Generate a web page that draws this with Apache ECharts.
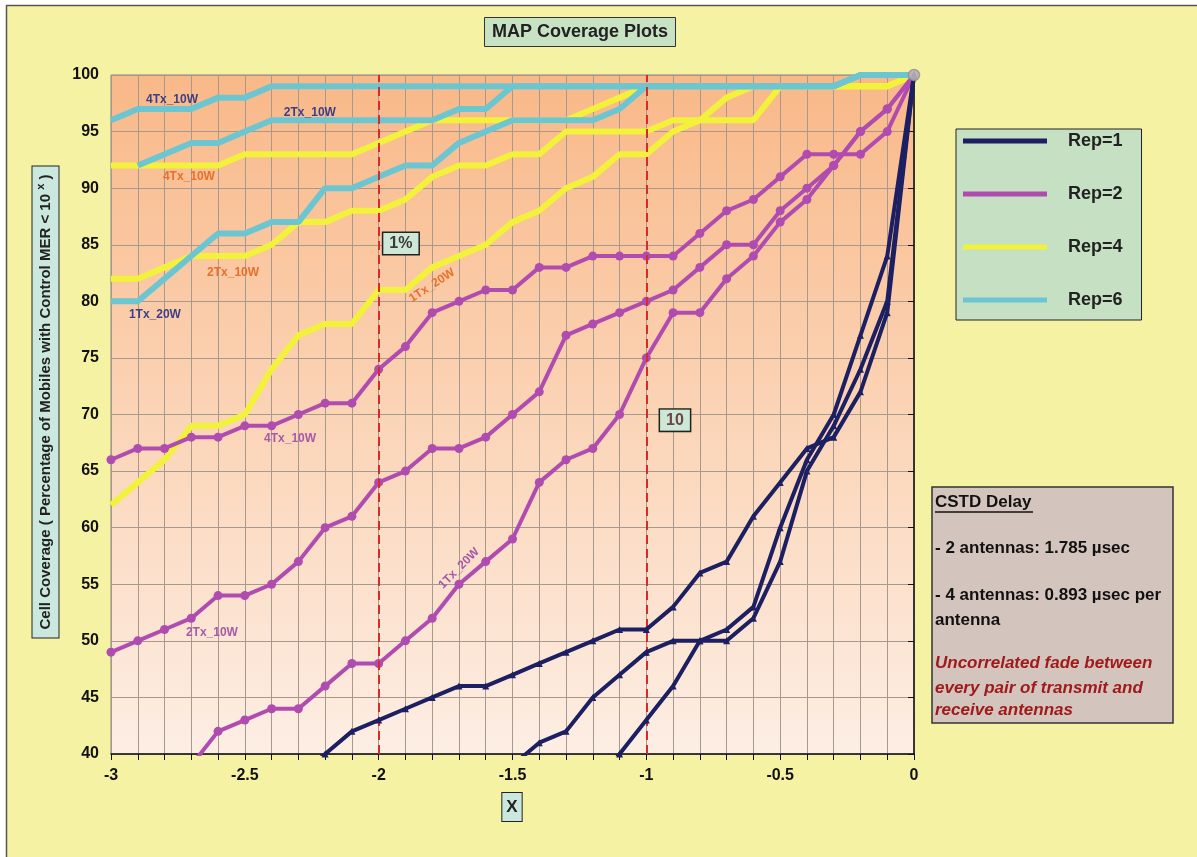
<!DOCTYPE html>
<html><head><meta charset="utf-8">
<script src="https://cdn.jsdelivr.net/npm/echarts/dist/echarts.min.js"></script>
<style>html,body{margin:0;padding:0;background:#ffffff}#c{width:1197px;height:857px}</style>
</head><body><div id="c"></div>
<script>
// ---------- data ----------
const xValues = [-3.0,-2.9,-2.8,-2.7,-2.6,-2.5,-2.4,-2.3,-2.2,-2.1,-2.0,-1.9,-1.8,-1.7,-1.6,-1.5,-1.4,-1.3,-1.2,-1.1,-1.0,-0.9,-0.8,-0.7,-0.6,-0.5,-0.4,-0.3,-0.2,-0.1,0];
const xTickLabels = [-3,-2.5,-2,-1.5,-1,-0.5,0];
const yTickLabels = [40,45,50,55,60,65,70,75,80,85,90,95,100];
// Rep=1 (navy)
const rep1_4Tx = [null,null,null,null,null,null,null,38,40,42,43,44,45,46,46,47,48,49,50,51,51,53,56,57,61,64,67,68,72,79,100];
const rep1_2Tx = [null,null,null,null,null,null,null,null,null,null,null,null,null,null,null,39,41,42,45,47,49,50,50,51,53,60,66,70,77,84,100];
const rep1_1Tx = [null,null,null,null,null,null,null,null,null,null,null,null,null,null,null,null,null,null,37,40,43,46,50,50,52,57,65,69,74,80,100];
// Rep=2 (magenta)
const rep2_4Tx = [66,67,67,68,68,69,69,70,71,71,74,76,79,80,81,81,83,83,84,84,84,84,86,88,89,91,93,93,93,95,100];
const rep2_2Tx = [49,50,51,52,54,54,55,57,60,61,64,65,67,67,68,70,72,77,78,79,80,81,83,85,85,88,90,92,95,97,100];
const rep2_1Tx = [null,null,null,39,42,43,44,44,46,48,48,50,52,55,57,59,64,66,67,70,75,79,79,82,84,87,89,92,95,97,100];
// Rep=4 (yellow)
const rep4_4Tx = [92,92,92,92,92,93,93,93,93,93,94,95,96,96,96,96,96,96,97,98,99,99,99,99,99,99,99,99,99,99,100];
const rep4_2Tx = [82,82,83,84,84,84,85,87,87,88,88,89,91,92,92,93,93,95,95,95,95,96,96,96,96,99,99,99,99,99,100];
const rep4_1Tx = [62,64,66,69,69,70,74,77,78,78,81,81,83,84,85,87,88,90,91,93,93,95,96,98,99,99,99,99,99,99,100];
// Rep=6 (cyan)
const rep6_4Tx = [96,97,97,97,98,98,99,99,99,99,99,99,99,99,99,99,99,99,99,99,99,99,99,99,99,99,99,99,100,100,100];
const rep6_2Tx = [null,92,93,94,94,95,96,96,96,96,96,96,96,97,97,99,99,99,99,99,99,99,99,99,99,99,99,99,100,100,100];
const rep6_1Tx = [80,80,82,84,86,86,87,87,90,90,91,92,92,94,95,96,96,96,96,97,99,99,99,99,99,99,99,99,100,100,100];
const endPoint = [[0,100]];
const thresholdX = [-2,-1];
const legendNames = ['Rep=1','Rep=2','Rep=4','Rep=6'];
// text annotations in data coordinates
const lineLabels = [
  {text:'4Tx_10W', x:-2.772, y:97.8, color:'#3d3f86', rot:0},
  {text:'2Tx_10W', x:-2.257, y:96.7, color:'#3d3f86', rot:0},
  {text:'4Tx_10W', x:-2.709, y:91.0, color:'#e8702a', rot:0},
  {text:'2Tx_10W', x:-2.544, y:82.5, color:'#e8702a', rot:0},
  {text:'1Tx_20W', x:-2.836, y:78.8, color:'#3d3f86', rot:0},
  {text:'1Tx_20W', x:-1.801, y:81.4, color:'#e8702a', rot:33},
  {text:'4Tx_10W', x:-2.331, y:67.9, color:'#a85aa8', rot:0},
  {text:'2Tx_10W', x:-2.623, y:50.7, color:'#a85aa8', rot:0},
  {text:'1Tx_20W', x:-1.700, y:56.4, color:'#a85aa8', rot:45}
];
const boxLabels = [
  {text:'1%', x:-1.917, y:85.1, color:'#3a3a3a'},
  {text:'10', x:-0.893, y:69.5, color:'#6a4646'}
];

// ---------- chart ----------
const NAVY='#1c1f62', MAG='#b04cb0', YEL='#f2f23a', CYA='#6cc6d2';
const FONT='"Liberation Sans", Arial, sans-serif';
function pts(arr){return xValues.map((x,i)=>[x,arr[i]]).filter(d=>d[1]!=null);}
function yel(arr){return {name:'Rep=4',type:'line',data:pts(arr),symbol:'none',lineStyle:{color:YEL,width:6},itemStyle:{color:YEL},z:2};}
function cya(arr){return {name:'Rep=6',type:'line',data:pts(arr),symbol:'none',lineStyle:{color:CYA,width:6},itemStyle:{color:CYA},z:3};}
function mag(arr){return {name:'Rep=2',type:'line',data:pts(arr),symbol:'circle',symbolSize:9,lineStyle:{color:MAG,width:4},itemStyle:{color:MAG},z:4};}
function nav(arr){return {name:'Rep=1',type:'line',data:pts(arr),symbol:'triangle',symbolSize:7,lineStyle:{color:NAVY,width:4},itemStyle:{color:NAVY},z:5};}

const series = [
  yel(rep4_4Tx), yel(rep4_2Tx), yel(rep4_1Tx),
  cya(rep6_4Tx), cya(rep6_2Tx), cya(rep6_1Tx),
  mag(rep2_4Tx), mag(rep2_2Tx), mag(rep2_1Tx),
  nav(rep1_4Tx), nav(rep1_2Tx), nav(rep1_1Tx),
  {name:'end',type:'scatter',data:endPoint,symbol:'circle',symbolSize:11,itemStyle:{color:'#c9c9bd',borderColor:'#8e8e88',borderWidth:1.5},z:8,silent:true}
];
series[9].markLine = {silent:true,symbol:'none',label:{show:false},
  lineStyle:{color:'#d52b2b',width:2,type:[9,5]},
  data:thresholdX.map(v=>({xAxis:v}))};

const chart = echarts.init(document.getElementById('c'));
const option = {
  backgroundColor:'#f6f2a3',
  animation:false,
  textStyle:{fontFamily:FONT},
  title:{text:'MAP Coverage Plots',left:484,top:17,padding:[6,8],
    backgroundColor:'#c8e2c4',borderColor:'#333',borderWidth:1,
    textStyle:{fontSize:18,fontWeight:'bold',color:'#222',fontFamily:FONT}},
  legend:{data:legendNames,orient:'vertical',left:956,top:129,
    icon:'rect',itemWidth:84,itemHeight:5,itemGap:35,
    padding:[3,19,11,7],backgroundColor:'#c6e0c4',borderColor:'#222',borderWidth:1,
    textStyle:{fontSize:18,fontWeight:'bold',color:'#222',fontFamily:FONT,padding:[0,0,0,16]}},
  grid:{left:111,top:75,right:283,bottom:103,show:true,
    backgroundColor:{type:'linear',x:0,y:0,x2:0,y2:1,colorStops:[
      {offset:0,color:'#f9b888'},{offset:0.5,color:'#fbd4b6'},{offset:1,color:'#fdeee4'}]},
    borderColor:'#8c7d74',borderWidth:1},
  xAxis:{type:'value',min:-3,max:0,interval:0.5,
    axisLine:{onZero:false,lineStyle:{color:'#111',width:1.5}},
    axisTick:{show:true,length:6,lineStyle:{color:'#111'}},
    minorTick:{show:true,splitNumber:5,length:6,lineStyle:{color:'#111'}},
    splitLine:{show:true,lineStyle:{color:'#a8998f',width:1}},
    minorSplitLine:{show:true,lineStyle:{color:'#a8998f',width:1}},
    axisLabel:{fontSize:16,fontWeight:'bold',color:'#111',margin:14,fontFamily:FONT,
      formatter:v=>String(xTickLabels.find(t=>Math.abs(t-v)<1e-6) ?? '')}},
  yAxis:{type:'value',min:40,max:100,interval:5,
    axisLine:{show:true,lineStyle:{color:'#111',width:1.5}},
    axisTick:{show:true,length:6,lineStyle:{color:'#111'}},
    splitLine:{show:true,lineStyle:{color:'#a8998f',width:1}},
    axisLabel:{fontSize:16,fontWeight:'bold',color:'#111',margin:12,fontFamily:FONT,
      formatter:v=>String(yTickLabels.find(t=>t===v) ?? '')}},
  series:series
};
chart.setOption(option);

function place(){
  const g=[];
  // outer frame (white margin at top/left with dark edge)
  g.push({type:'rect',shape:{x:0,y:0,width:1197,height:5},z:1,style:{fill:'#ffffff'}});
  g.push({type:'rect',shape:{x:0,y:0,width:6,height:857},z:1,style:{fill:'#ffffff'}});
  g.push({type:'line',shape:{x1:6,y1:5.5,x2:1197,y2:5.5},z:1,style:{stroke:'#555',lineWidth:1.5}});
  g.push({type:'line',shape:{x1:6.5,y1:5,x2:6.5,y2:857},z:1,style:{stroke:'#555',lineWidth:1.5}});
  lineLabels.forEach(l=>{
    const p=chart.convertToPixel({gridIndex:0},[l.x,l.y]);
    g.push({type:'text',x:p[0],y:p[1],rotation:l.rot*Math.PI/180,z:20,
      style:{text:l.text,fill:l.color,font:'bold 12px '+FONT,align:'center',verticalAlign:'middle'}});
  });
  boxLabels.forEach(l=>{
    const p=chart.convertToPixel({gridIndex:0},[l.x,l.y]);
    g.push({type:'text',x:p[0],y:p[1],z:20,
      style:{text:l.text,fill:l.color,font:'bold 16px '+FONT,align:'center',verticalAlign:'middle',
        backgroundColor:'#cde8d6',borderColor:'#222',borderWidth:1.5,padding:[3,6,2,6]}});
  });
  // y axis name
  g.push({type:'text',x:45.5,y:402,rotation:Math.PI/2,z:20,
    style:{text:'Cell Coverage ( Percentage of Mobiles with Control MER < 10 {s|x} )',
      font:'bold 15px '+FONT,fill:'#222',align:'center',verticalAlign:'middle',
      backgroundColor:'#cbe8df',borderColor:'#222',borderWidth:1,padding:[3,8,3,8],
      rich:{s:{fontSize:11,fontWeight:'bold',fill:'#222',padding:[0,0,9,0]}}}});
  // x axis name
  g.push({type:'text',x:512,y:807,z:20,
    style:{text:'X',font:'bold 17px '+FONT,fill:'#222',align:'center',verticalAlign:'middle',
      backgroundColor:'#cbe8df',borderColor:'#222',borderWidth:1,padding:[6,4,5,4]}});
  // CSTD box
  g.push({type:'rect',shape:{x:932,y:487,width:241,height:236},z:15,
    style:{fill:'#d3c5bd',stroke:'#333',lineWidth:1.5}});
  const tl=[
    ['CSTD Delay',502,'#111','bold'],
    ['- 2 antennas: 1.785 \u00b5sec',548,'#111','bold'],
    ['- 4 antennas: 0.893 \u00b5sec per',595,'#111','bold'],
    ['antenna',620,'#111','bold'],
    ['Uncorrelated fade between',663,'#a01a1a','italic bold'],
    ['every pair of transmit and',688,'#a01a1a','italic bold'],
    ['receive antennas',710,'#a01a1a','italic bold']
  ];
  tl.forEach(t=>g.push({type:'text',x:935,y:t[1],z:16,
    style:{text:t[0],fill:t[2],font:t[3]+' 17px '+FONT,align:'left',verticalAlign:'middle'}}));
  g.push({type:'line',shape:{x1:935,y1:512,x2:1033,y2:512},z:16,style:{stroke:'#111',lineWidth:1.3}});
  chart.setOption({graphic:g});
}
place();
</script></body></html>
